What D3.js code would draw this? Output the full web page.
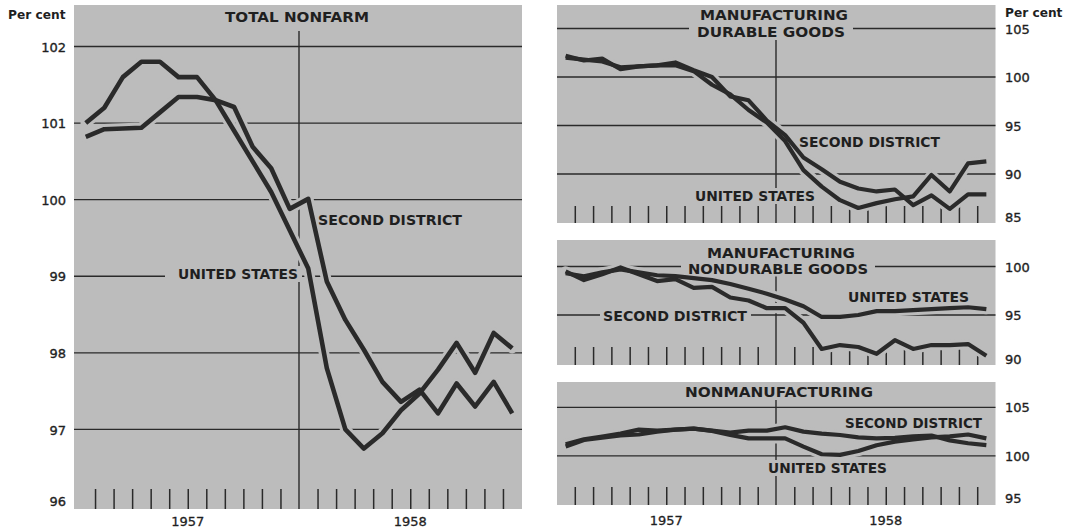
<!DOCTYPE html>
<html>
<head>
<meta charset="utf-8">
<script src="https://cdn.jsdelivr.net/npm/d3@7"></script>
<style>
  html, body { margin: 0; padding: 0; background: #ffffff; }
  svg { display: block; }
  text { font-family: "DejaVu Sans", "Liberation Sans", sans-serif; fill: #1f1f1f; }
</style>
</head>
<body>
<svg id="chart" width="1076" height="529"></svg>
<script>
// ---- Data: monthly employment indexes, 1957-1958 ----
const months = [
  "1957-01","1957-02","1957-03","1957-04","1957-05","1957-06",
  "1957-07","1957-08","1957-09","1957-10","1957-11","1957-12",
  "1958-01","1958-02","1958-03","1958-04","1958-05","1958-06",
  "1958-07","1958-08","1958-09","1958-10","1958-11","1958-12"
];
const years = ["1957", "1958"];

const nonfarmUS = [101.0, 101.2, 101.6, 101.8, 101.8, 101.6, 101.6, 101.3, 100.9, 100.5, 100.1, 99.6,
                   99.1, 97.8, 97.0, 96.75, 96.95, 97.25, 97.47, 97.78, 98.13, 97.74, 98.26, 98.06];
const nonfarmSD = [100.82, 100.92, 100.93, 100.94, 101.14, 101.34, 101.34, 101.3, 101.21, 100.69, 100.41, 99.88,
                   100.01, 98.93, 98.43, 98.04, 97.62, 97.36, 97.52, 97.21, 97.6, 97.3, 97.62, 97.21];

const durableUS = [102.0, 101.8, 101.6, 101.0, 101.1, 101.2, 101.2, 100.6, 99.2, 98.2, 96.6, 95.3,
                   93.4, 90.4, 88.7, 87.3, 86.5, 87.0, 87.4, 87.7, 89.9, 88.2, 91.1, 91.3];
const durableSD = [102.2, 101.7, 101.9, 100.8, 101.1, 101.2, 101.5, 100.7, 100.0, 98.0, 97.6, 95.5,
                   94.0, 91.7, 90.5, 89.2, 88.5, 88.2, 88.4, 86.8, 87.8, 86.4, 87.9, 87.9];

const nondurableUS = [99.3, 99.0, 99.4, 99.7, 99.4, 99.1, 99.0, 98.8, 98.6, 98.2, 97.7, 97.2,
                      96.6, 95.9, 94.8, 94.8, 95.0, 95.4, 95.4, 95.5, 95.6, 95.7, 95.8, 95.6];
const nondurableSD = [99.5, 98.6, 99.2, 99.9, 99.2, 98.5, 98.7, 97.8, 97.9, 96.8, 96.5, 95.7,
                      95.7, 94.2, 91.5, 91.9, 91.7, 91.0, 92.4, 91.5, 91.9, 91.9, 92.0, 90.8];

const nonmfgUS = [100.96, 101.64, 101.88, 102.1, 102.2, 102.5, 102.7, 102.8, 102.57, 102.16, 101.8, 101.8,
                  101.8, 100.96, 100.17, 100.1, 100.5, 101.1, 101.47, 101.7, 101.9, 102.0, 102.2, 101.8];
const nonmfgSD = [101.2, 101.7, 102.0, 102.3, 102.7, 102.6, 102.7, 102.8, 102.6, 102.4, 102.6, 102.6,
                  102.95, 102.5, 102.3, 102.15, 101.9, 101.8, 101.85, 102.0, 102.1, 101.6, 101.3, 101.1];

const nonfarmTicks = [96, 97, 98, 99, 100, 101, 102];
const durableTicks = [85, 90, 95, 100, 105];
const nondurableTicks = [90, 95, 100];
const nonmfgTicks = [95, 100, 105];

// ---- Styling ----
const PANEL = "#bcbcbc";
const INK = "#2a2a2a";
const TEXT = "#1f1f1f";

// ---- Panel layout ----
const panels = [
  { box: [74, 5, 522, 509], xr: [76.5, 521.5], domain: [96, 102], yr: [506, 46.5],
    ticks: nonfarmTicks, side: "left", axisX: 66, us: nonfarmUS, sd: nonfarmSD,
    divTop: 31, tickLen: 20, lw: 4.6, years: true, lowShift: -5,
    labels: [
      { t: "TOTAL NONFARM", x: 225, y: 17, w: 144 },
      { t: "SECOND DISTRICT", x: 318, y: 220, w: 144 },
      { t: "UNITED STATES", x: 178, y: 274, w: 120, padL: 13, padR: 4 }
    ] },
  { box: [557, 5, 995.5, 223], xr: [556.5, 995.5], domain: [85, 105], yr: [222.5, 28.5],
    ticks: durableTicks, side: "right", axisX: 1005, us: durableUS, sd: durableSD,
    divTop: 40, tickLen: 17, lw: 4.2, years: false, lowShift: -5.5,
    labels: [
      { t: "MANUFACTURING", x: 700, y: 15, w: 148 },
      { t: "DURABLE GOODS", x: 697, y: 31.5, w: 148, padL: 8, padR: 8 },
      { t: "SECOND DISTRICT", x: 799, y: 141.5, w: 141 },
      { t: "UNITED STATES", x: 695, y: 196, w: 120 }
    ] },
  { box: [557, 240, 995.5, 365], xr: [556.5, 995.5], domain: [90, 100], yr: [363.5, 266.5],
    ticks: nondurableTicks, side: "right", axisX: 1005, us: nondurableUS, sd: nondurableSD,
    divTop: 275, tickLen: 18, lw: 4.2, years: false, lowShift: -4.5,
    labels: [
      { t: "MANUFACTURING", x: 707, y: 252.5, w: 148 },
      { t: "NONDURABLE GOODS", x: 688, y: 268.5, w: 180, padL: 7, padR: 7 },
      { t: "UNITED STATES", x: 848, y: 296.5, w: 121 },
      { t: "SECOND DISTRICT", x: 603, y: 316, w: 144, padL: 3, padR: 4 }
    ] },
  { box: [557, 382, 995.5, 505], xr: [556.5, 995.5], domain: [95, 105], yr: [504.5, 407.3],
    ticks: nonmfgTicks, side: "right", axisX: 1005, us: nonmfgUS, sd: nonmfgSD,
    divTop: 400, tickLen: 18, lw: 4.2, years: true, lowShift: -6.5,
    labels: [
      { t: "NONMANUFACTURING", x: 685, y: 391.5, w: 188 },
      { t: "SECOND DISTRICT", x: 845, y: 423, w: 137 },
      { t: "UNITED STATES", x: 768, y: 468, w: 119 }
    ] }
];

const svg = d3.select("#chart");

// "Per cent" unit captions
svg.append("text").attr("x", 65.5).attr("y", 19.3).attr("text-anchor", "end")
  .attr("font-size", 12.2).attr("font-weight", "bold").text("Per cent");
svg.append("text").attr("x", 1005).attr("y", 16.6).attr("text-anchor", "start")
  .attr("font-size", 12.2).attr("font-weight", "bold").text("Per cent");

panels.forEach(p => {
  const [bx0, by0, bx1, by1] = p.box;
  const g = svg.append("g");

  const x = d3.scaleLinear().domain([0, months.length]).range(p.xr);
  const y = d3.scaleLinear().domain(p.domain).range(p.yr);

  // shaded panel
  g.append("rect").attr("x", bx0).attr("y", by0)
    .attr("width", bx1 - bx0).attr("height", by1 - by0).attr("fill", PANEL);

  // horizontal rules (the lowest value sits on the panel edge)
  const lowest = d3.min(p.ticks);
  g.selectAll("line.grid").data(p.ticks.filter(v => v !== lowest)).join("line")
    .attr("class", "grid")
    .attr("x1", bx0).attr("x2", bx1)
    .attr("y1", d => y(d)).attr("y2", d => y(d))
    .attr("stroke", INK).attr("stroke-width", 1.3);

  // year divider
  g.append("line")
    .attr("x1", x(12)).attr("x2", x(12))
    .attr("y1", p.divTop).attr("y2", by1)
    .attr("stroke", INK).attr("stroke-width", 1.4);

  // month ticks along the bottom edge
  const monthAxis = d3.axisTop(x)
    .tickValues(d3.range(1, months.length).filter(k => k !== 12))
    .tickSize(p.tickLen).tickFormat("");
  const ma = g.append("g").attr("transform", `translate(0,${by1})`).call(monthAxis);
  ma.select(".domain").remove();
  ma.selectAll(".tick line").attr("stroke", INK).attr("stroke-width", 1.5);

  // series
  const line = d3.line()
    .x((d, i) => x(i + 0.5))
    .y(d => y(d));
  const series = [p.sd, p.us];

  // cut-outs in the rules around each curve
  g.selectAll("path.halo").data(series).join("path")
    .attr("class", "halo")
    .attr("d", line).attr("fill", "none")
    .attr("stroke", PANEL).attr("stroke-width", p.lw + 6)
    .attr("stroke-linejoin", "round").attr("stroke-linecap", "round");

  // cut-outs behind labels
  p.labels.forEach(l => {
    const pl = l.padL != null ? l.padL : 5;
    const pr = l.padR != null ? l.padR : 5;
    g.append("rect")
      .attr("x", l.x - pl).attr("y", l.y - 8)
      .attr("width", l.w + pl + pr).attr("height", 16)
      .attr("fill", PANEL);
  });

  g.selectAll("path.series").data(series).join("path")
    .attr("class", "series")
    .attr("d", line).attr("fill", "none")
    .attr("stroke", INK).attr("stroke-width", p.lw)
    .attr("stroke-linejoin", "round").attr("stroke-linecap", "butt");

  // labels
  p.labels.forEach(l => {
    g.append("text")
      .attr("x", l.x).attr("y", l.y + 5.1)
      .attr("font-size", 14).attr("font-weight", "bold")
      .attr("textLength", l.w).attr("lengthAdjust", "spacingAndGlyphs")
      .text(l.t);
  });

  // value axis
  const axis = (p.side === "left" ? d3.axisLeft(y) : d3.axisRight(y))
    .tickValues(p.ticks).tickSize(0).tickPadding(0).tickFormat(d3.format("d"));
  const ax = svg.append("g").attr("transform", `translate(${p.axisX},0)`).call(axis);
  ax.select(".domain").remove();
  ax.selectAll(".tick text")
    .attr("font-family", "\"DejaVu Sans\", sans-serif")
    .attr("font-size", 13)
    .attr("fill", TEXT)
    .attr("stroke", TEXT).attr("stroke-width", 0.35)
    .attr("dy", d => d === lowest ? `calc(0.34em + ${p.lowShift}px)` : "0.34em");
  ax.selectAll(".tick text").filter(d => d === lowest)
    .attr("dy", null)
    .attr("y", p.lowShift + 4.6);
  ax.selectAll(".tick text").filter(d => d !== lowest)
    .attr("dy", null)
    .attr("y", 4.6);

  // year captions
  if (p.years) {
    g.selectAll("text.year").data(years).join("text")
      .attr("class", "year")
      .attr("x", (d, i) => x(i * 12 + 6))
      .attr("y", by1 === 509 ? 526 : 525)
      .attr("text-anchor", "middle")
      .attr("font-size", 13)
      .attr("stroke", TEXT).attr("stroke-width", 0.3)
      .text(d => d);
  }
});
</script>
</body>
</html>
